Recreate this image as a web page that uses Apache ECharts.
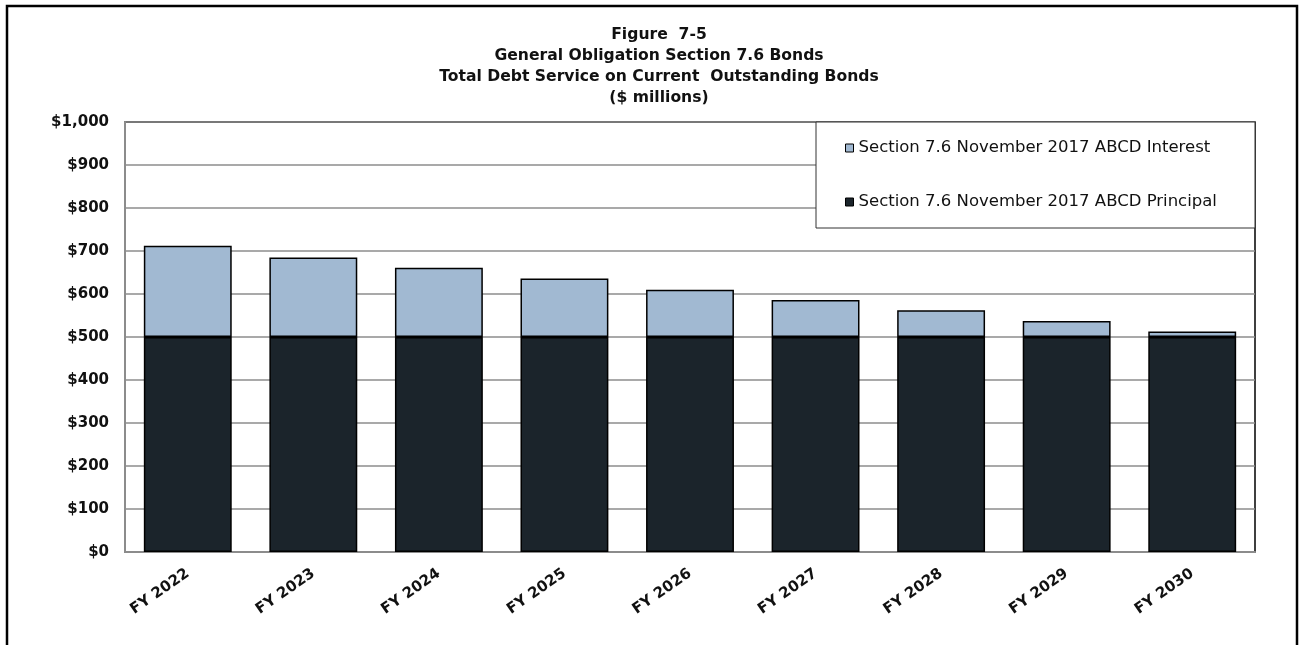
<!DOCTYPE html>
<html lang="en">
<head>
    <meta charset="UTF-8">
    <title>Figure 7-5</title>
    <style>
        html, body { margin: 0; padding: 0; background: #ffffff; }
        #barChart { width: 1304px; height: 645px; }
    </style>
</head>
<body>
<div id="barChart"></div>

<script src="https://cdn.jsdelivr.net/npm/echarts@6/dist/echarts.min.js"></script>
<script>
    // data ($ millions)
    var years = ['FY 2022', 'FY 2023', 'FY 2024', 'FY 2025', 'FY 2026', 'FY 2027', 'FY 2028', 'FY 2029', 'FY 2030'];
    var principal = [500, 500, 500, 500, 500, 500, 500, 500, 500];
    var interest = [212, 185, 161, 136, 110, 86, 62, 37, 13];
    var interestName = 'Section 7.6 November 2017 ABCD Interest';
    var principalName = 'Section 7.6 November 2017 ABCD Principal';

    var myChart = echarts.init(document.getElementById('barChart'));
    var option = {
        backgroundColor: '#ffffff',
        animation: false,
        title: {
            text: 'Figure  7-5\nGeneral Obligation Section 7.6 Bonds\nTotal Debt Service on Current  Outstanding Bonds\n($ millions)',
            left: 659,
            top: 25,
            padding: 0,
            textAlign: 'center',
            textStyle: {
                fontFamily: 'DejaVu Sans',
                fontSize: 15.6,
                fontWeight: 'bold',
                color: '#111',
                lineHeight: 20.7
            }
        },
        graphic: {
            elements: [{
                type: 'rect',
                z: 1,
                shape: { x: 7, y: 6, width: 1290, height: 700 },
                style: { fill: 'none', stroke: '#000', lineWidth: 2.5 }
            }, {
                type: 'rect',
                z: 5,
                shape: { x: 816, y: 122, width: 439, height: 106 },
                style: { fill: '#ffffff', stroke: '#333', lineWidth: 1 }
            }]
        },
        legend: {
            z: 10,
            orient: 'vertical',
            left: 845,
            top: 139,
            padding: 0,
            itemGap: 36,
            itemWidth: 8,
            itemHeight: 8,
            icon: 'rect',
            itemStyle: { borderColor: '#000', borderWidth: 1 },
            textStyle: {
                fontFamily: 'DejaVu Sans',
                fontSize: 16.5,
                color: '#111',
                lineHeight: 18
            },
            data: [interestName, principalName]
        },
        grid: {
            left: 125,
            right: 49,
            top: 122,
            bottom: 93,
            show: true,
            borderColor: '#000',
            borderWidth: 1.5,
            containLabel: false
        },
        xAxis: {
            type: 'category',
            data: years,
            axisLine: { lineStyle: { color: '#8c8c8c', width: 2 } },
            axisTick: { show: false },
            axisLabel: {
                rotate: 35,
                margin: 20,
                fontFamily: 'DejaVu Sans',
                fontSize: 15,
                fontWeight: 'bold',
                color: '#111'
            }
        },
        yAxis: {
            type: 'value',
            min: 0,
            max: 1000,
            interval: 100,
            axisLine: { show: true, lineStyle: { color: '#8c8c8c', width: 2 } },
            axisTick: { show: false },
            splitLine: { lineStyle: { color: '#8c8c8c', width: 1.5 } },
            axisLabel: {
                margin: 16,
                fontFamily: 'DejaVu Sans',
                fontSize: 15,
                fontWeight: 'bold',
                color: '#111',
                formatter: function (v) {
                    return '$' + v.toLocaleString('en-US');
                }
            }
        },
        series: [{
            name: principalName,
            type: 'bar',
            stack: 'total',
            barWidth: '70%',
            data: principal,
            itemStyle: { color: '#1b242b', borderColor: '#000', borderWidth: 1.5 }
        }, {
            name: interestName,
            type: 'bar',
            stack: 'total',
            barWidth: '70%',
            data: interest,
            itemStyle: { color: '#a1b9d2', borderColor: '#000', borderWidth: 1.5 }
        }]
    };
    myChart.setOption(option);
</script>
</body>
</html>
